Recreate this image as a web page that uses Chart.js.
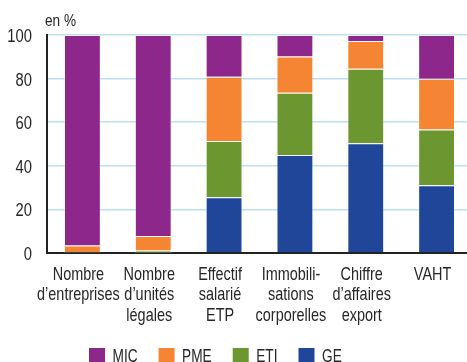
<!DOCTYPE html>
<html>
<head>
<meta charset="utf-8">
<script src="https://cdn.jsdelivr.net/npm/chart.js@4.4.1/dist/chart.umd.min.js"></script>
<style>
  html, body { margin: 0; padding: 0; background: #fff; overflow: hidden; width: 467px; height: 362px; }
  canvas { display: block; }
</style>
</head>
<body>
<canvas id="c" width="475" height="362"></canvas>
<script>
const categories = [
  ["Nombre", "d’entreprises"],
  ["Nombre", "d’unités", "légales"],
  ["Effectif", "salarié", "ETP"],
  ["Immobili-", "sations", "corporelles"],
  ["Chiffre", "d’affaires", "export"],
  ["VAHT"]
];
const seriesNames = ["GE", "ETI", "PME", "MIC"];
const geValues  = [0.1, 0.1, 25.6, 45.0, 50.3, 31.1];
const etiValues = [0.3, 1.1, 25.8, 28.5, 34.2, 25.6];
const pmeValues = [3.0, 6.6, 29.5, 16.6, 12.8, 23.2];
const micValues = [96.6, 92.2, 19.1, 9.9, 2.7, 20.1];
const yTicks = [0, 20, 40, 60, 80, 100];
const unitLabel = "en %";

const seriesColors = ["#1f4699", "#6c962f", "#f58433", "#8e278c"];
const seriesValues = [geValues, etiValues, pmeValues, micValues];
const FONT = "'Liberation Sans', Arial, sans-serif";
const TEXT = "#262626";

// draw horizontally condensed text (to mimic a condensed typeface)
function cText(ctx, str, x, y, align, size, sx) {
  ctx.save();
  ctx.translate(x, y);
  ctx.scale(sx, 1);
  ctx.font = size + "px " + FONT;
  ctx.textAlign = align;
  ctx.textBaseline = "alphabetic";
  ctx.fillStyle = TEXT;
  ctx.fillText(str, 0, 0);
  const w = ctx.measureText(str).width * sx;
  ctx.restore();
  return w;
}

const textPlugin = {
  id: 'textPlugin',
  afterDraw(chart) {
    const ctx = chart.ctx;
    const xs = chart.scales.x, ys = chart.scales.y;
    const area = chart.chartArea;
    // unit label
    cText(ctx, unitLabel, 45, 26, "left", 17, 0.8);
    // y tick labels
    ys.ticks.forEach(t => {
      cText(ctx, String(t.value), 32, ys.getPixelForValue(t.value) + 7, "right", 18, 0.82);
    });
    // x tick labels (multi-line)
    chart.data.labels.forEach((lab, i) => {
      const cx = xs.getPixelForValue(i) - 4;
      const lines = Array.isArray(lab) ? lab : [lab];
      lines.forEach((ln, j) => {
        cText(ctx, ln, cx, area.bottom + 26.5 + j * 20.6, "center", 19, 0.76);
      });
    });
    // legend (reverse order: MIC, PME, ETI, GE)
    let x = 89;
    const y = 348;
    chart.data.datasets.slice().reverse().forEach(d => {
      ctx.fillStyle = d.backgroundColor;
      ctx.fillRect(x, y, 16, 16);
      const w = cText(ctx, d.label, x + 23.5, y + 14, "left", 19, 0.72);
      x += 23.5 + w + 21;
    });
  }
};

new Chart(document.getElementById('c'), {
  type: 'bar',
  data: {
    labels: categories,
    datasets: seriesNames.map((n, i) => ({
      label: n,
      data: seriesValues[i],
      backgroundColor: seriesColors[i],
      borderColor: 'rgba(255,255,255,0.3)',
      borderWidth: 1,
      barPercentage: 0.52,
      categoryPercentage: 1.0
    }))
  },
  options: {
    responsive: false,
    animation: false,
    devicePixelRatio: 1,
    layout: { padding: { top: 35, right: 3, left: 0, bottom: 0 } },
    plugins: { legend: { display: false }, tooltip: { enabled: false }, title: { display: false } },
    scales: {
      x: {
        stacked: true,
        grid: { display: false, drawTicks: false },
        border: { display: true, color: '#222', width: 2 },
        ticks: { display: false },
        afterFit(scale) { scale.height = 109; }
      },
      y: {
        stacked: true,
        min: 0,
        max: 100,
        afterBuildTicks(scale) { scale.ticks = yTicks.map(v => ({ value: v })); },
        grid: { color: '#bcdff4', lineWidth: 1.5, drawTicks: false },
        border: { display: true, color: '#222', width: 2 },
        ticks: { display: false },
        afterFit(scale) { scale.width = 47; }
      }
    }
  },
  plugins: [textPlugin]
});
</script>
</body>
</html>
